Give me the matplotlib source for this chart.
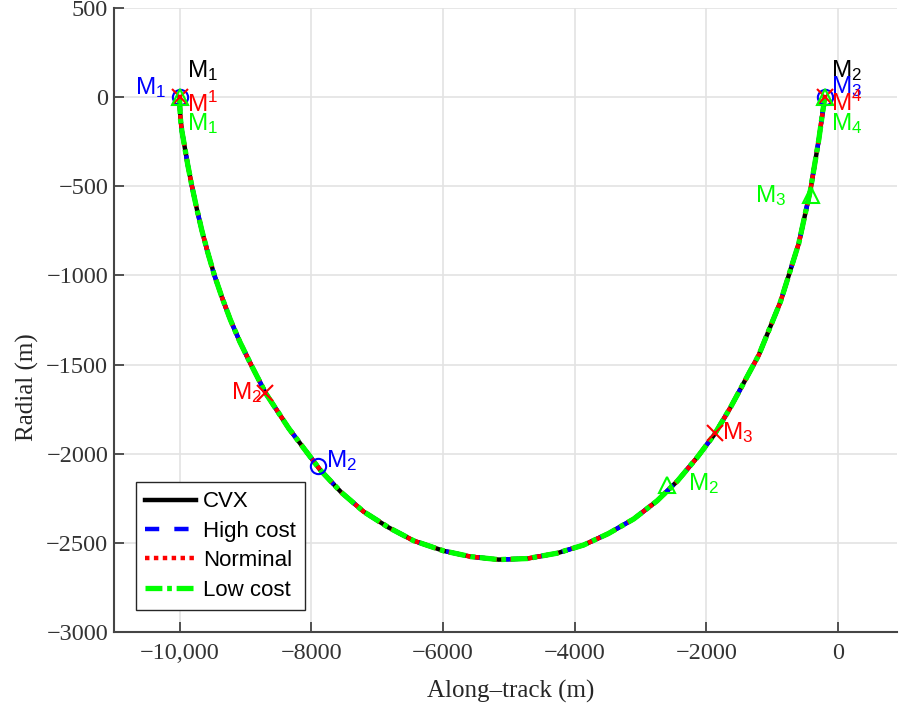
import numpy as np
import matplotlib
matplotlib.use('Agg')
import matplotlib.pyplot as plt

# relative trajectory (along-track, radial) in metres
track_x = [-10000, -9995, -9985, -9965, -9936, -9878, -9812, -9739, -9660, -9569,
           -9470, -9354, -9227, -9081, -8915, -8690, -8341, -7862, -7543, -7204,
           -6829, -6444, -5989, -5583, -5153, -4717, -4266, -3862, -3487, -3102,
           -2746, -2438, -2139, -1876, -1633, -1203, -873, -595, -418, -292, -200]
track_y = [0, -60, -125, -190, -250, -375, -500, -625, -750, -875,
           -1000, -1125, -1250, -1375, -1500, -1662, -1858, -2092, -2217, -2325,
           -2413, -2488, -2545, -2577, -2594, -2588, -2558, -2512, -2448, -2366,
           -2264, -2153, -2021, -1892, -1741, -1447, -1148, -820, -521, -241, 0]

names = ['CVX', 'High cost', 'Norminal', 'Low cost']

# maneuver points per solution
cvx_mx = [-10000, -200]
cvx_my = [0, 0]
cvx_lbl = [r'M$_1$', r'M$_2$']

high_mx = [-10000, -7900, -200]
high_my = [0, -2068, 0]
high_lbl = [r'M$_1$', r'M$_2$', r'M$_3$']

nom_mx = [-10000, -8698, -1860, -200]
nom_my = [0, -1662, -1882, 0]
nom_lbl = [r'M$^1$', r'M$_2$', r'M$_3$', r'M$^4$']

low_mx = [-10000, -2593, -415, -200]
low_my = [0, -2176, -550, 0]
low_lbl = [r'M$_1$', r'M$_2$', r'M$_3$', r'M$_4$']

xticks = [-10000, -8000, -6000, -4000, -2000, 0]
xticklabels = ['\u221210,000', '\u22128000', '\u22126000', '\u22124000', '\u22122000', '0']
yticks = [500, 0, -500, -1000, -1500, -2000, -2500, -3000]
yticklabels = ['500', '0', '\u2212500', '\u22121000', '\u22121500', '\u22122000', '\u22122500', '\u22123000']

plt.rcParams['mathtext.fontset'] = 'custom'
plt.rcParams['mathtext.rm'] = 'Liberation Sans'
plt.rcParams['mathtext.it'] = 'Liberation Sans:italic'
plt.rcParams['mathtext.bf'] = 'Liberation Sans:bold'

fig = plt.figure(figsize=(8.99, 7.13), dpi=100)
ax = fig.add_axes([0.1265, 0.1136, 0.8715, 0.8752])

ax.plot(track_x, track_y, '-', color='k', linewidth=3.2, label=names[0], zorder=3)
ax.plot(track_x, track_y, color=(0, 0, 1), linewidth=3.2, dashes=(3.2, 3.4), label=names[1], zorder=3)
ax.plot(track_x, track_y, color=(1, 0, 0), linewidth=3.2, dashes=(1, 1), label=names[2], zorder=3)
ax.plot(track_x, track_y, color=(0, 1, 0), linewidth=3.8, dashes=(3.2, 0.9, 0.9, 0.9), label=names[3], zorder=3)

ax.plot(high_mx, high_my, 'o', color=(0, 0, 1), mfc='none', markersize=11, mew=1.5, zorder=4)
ax.plot(nom_mx, nom_my, 'x', color=(1, 0, 0), markersize=11, mew=1.5, zorder=4)
ax.plot(low_mx, low_my, '^', color=(0, 1, 0), mfc='none', markersize=12, mew=1.5, zorder=4)

# label offsets in points (dx, dy, ha)
txt = dict(fontsize=17.5, family='Liberation Sans', va='baseline', textcoords='offset points', zorder=5)
cvx_off = [(5.0, 14.2, 'left'), (4.8, 14.4, 'left')]
high_off = [(-9.8, 1.9, 'right'), (5.8, -0.7, 'left'), (4.8, 2.9, 'left')]
nom_off = [(5.0, -10.8, 'left'), (-2.2, -4.3, 'right'), (5.0, -4.7, 'left'), (4.8, -10.1, 'left')]
low_off = [(5.0, -23.8, 'left'), (14.6, -3.6, 'left'), (-17.5, -5.0, 'right'), (4.8, -23.8, 'left')]

for mx, my, lbl, off, col in [(cvx_mx, cvx_my, cvx_lbl, cvx_off, 'k'),
                              (high_mx, high_my, high_lbl, high_off, (0, 0, 1)),
                              (nom_mx, nom_my, nom_lbl, nom_off, (1, 0, 0)),
                              (low_mx, low_my, low_lbl, low_off, (0, 1, 0))]:
    for x, y, s, (dx, dy, ha) in zip(mx, my, lbl, off):
        ax.annotate(s, (x, y), xytext=(dx, dy), ha=ha, color=col, **txt)

ax.set_xlim(-11000, 900)
ax.set_ylim(-3000, 500)
ax.set_xticks(xticks)
ax.set_xticklabels(xticklabels)
ax.set_yticks(yticks)
ax.set_yticklabels(yticklabels)

ax.grid(True, color='#e3e3e3', linewidth=1.2)
ax.set_axisbelow(True)
for side in ['top', 'right']:
    ax.spines[side].set_visible(False)
for side in ['left', 'bottom']:
    ax.spines[side].set_color('#454545')
    ax.spines[side].set_linewidth(1.5)

ax.tick_params(direction='in', length=7, width=1.3, color='#454545',
               labelsize=17.5, labelcolor='#333333')
ax.tick_params(axis='x', pad=8)
ax.tick_params(axis='y', pad=4)
for t in ax.get_xticklabels() + ax.get_yticklabels():
    t.set_family('Liberation Serif')

ax.set_xlabel('Along\u2013track (m)', fontsize=18, family='Liberation Serif', color='#262626')
ax.set_ylabel('Radial (m)', fontsize=18, family='Liberation Serif', color='#262626')
ax.xaxis.set_label_coords(0.507, -0.077)
ax.yaxis.set_label_coords(-0.095, 0.393)

leg = ax.legend(loc='lower left', bbox_to_anchor=(0.029, 0.036), borderaxespad=0,
                prop={'family': 'Liberation Sans', 'size': 16},
                fancybox=False, framealpha=1, edgecolor='#262626',
                handlelength=2.3, handletextpad=0.3, labelspacing=0.38, borderpad=0.4)
leg.get_frame().set_linewidth(1.0)

fig.savefig('out.png', dpi=100)
